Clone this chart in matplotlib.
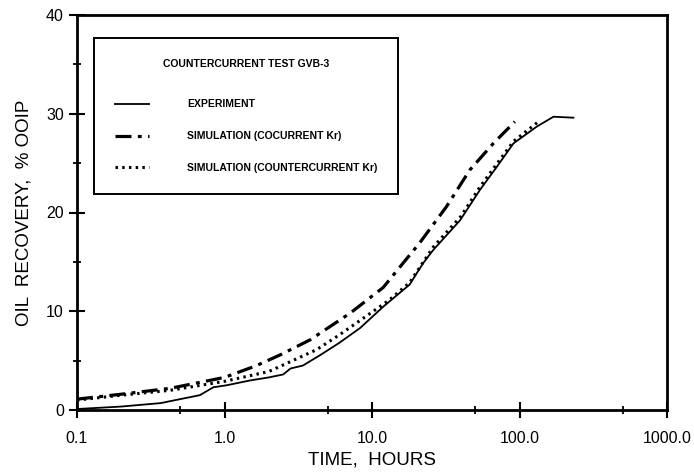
import matplotlib
matplotlib.use('Agg')
import matplotlib.pyplot as plt
from matplotlib.ticker import FixedLocator, FixedFormatter, NullFormatter

plt.rcParams['font.family'] = ['Liberation Sans', 'DejaVu Sans']

# experiment (solid)
exp_t = [0.1, 0.2, 0.37, 0.5, 0.68, 0.84, 1.03, 1.5, 2.0, 2.5, 2.8, 3.4, 4.5, 6.0, 8.3,
         12, 18, 20, 22.3, 26, 39.5, 54, 70, 91, 131, 170, 232]
exp_y = [0.1, 0.35, 0.7, 1.1, 1.5, 2.3, 2.5, 3.0, 3.3, 3.6, 4.2, 4.5, 5.6, 6.8, 8.3,
         10.5, 12.7, 13.8, 14.9, 16.2, 19.2, 22.3, 24.6, 27.0, 28.7, 29.7, 29.6]

# simulation, cocurrent Kr (dash-dot)
co_t = [0.1, 0.2, 0.43, 1.0, 1.65, 2.4, 3.8, 7.1, 11.9, 16.3, 21, 32, 46, 66.5, 93]
co_y = [1.1, 1.6, 2.2, 3.3, 4.5, 5.6, 7.1, 9.8, 12.4, 14.9, 16.9, 20.6, 24.3, 27.0, 29.2]

# simulation, countercurrent Kr (dotted)
cc_t = [0.1, 0.2, 0.43, 1.0, 2.0, 4.2, 6.0, 13, 18, 26, 40, 54, 70, 91, 137]
cc_y = [1.0, 1.5, 2.0, 2.9, 3.9, 6.1, 7.6, 11.1, 12.9, 16.5, 19.6, 22.6, 24.9, 27.2, 29.3]

x_ticks = [0.1, 1.0, 10.0, 100.0, 1000.0]
x_labels = ['0.1', '1.0', '10.0', '100.0', '1000.0']
y_ticks = [0, 10, 20, 30, 40]

fig = plt.figure(figsize=(6.94, 4.75), dpi=100)
ax = fig.add_axes([77/694, 1-410/475, 590/694, 395/475])

ax.plot(exp_t, exp_y, color='black', lw=1.3, label='EXPERIMENT')
ax.plot(co_t, co_y, color='black', lw=2.3, dashes=(5, 2, 1.2, 2),
        label='SIMULATION (COCURRENT Kr)')
ax.plot(cc_t, cc_y, color='black', lw=2.2, dashes=(0.8, 1.4),
        label='SIMULATION (COUNTERCURRENT Kr)')

ax.set_xscale('log')
ax.set_xlim(0.1, 1000)
ax.set_ylim(0, 40)
ax.xaxis.set_major_locator(FixedLocator(x_ticks))
ax.xaxis.set_major_formatter(FixedFormatter(x_labels))
ax.xaxis.set_minor_locator(FixedLocator([0.5, 5, 50, 500]))
ax.xaxis.set_minor_formatter(NullFormatter())
ax.yaxis.set_major_locator(FixedLocator(y_ticks))
ax.yaxis.set_minor_locator(FixedLocator([5, 15, 25, 35]))

ax.tick_params(which='major', direction='inout', length=12, width=1.5, labelsize=11.5)
ax.tick_params(axis='x', which='major', pad=9)
ax.tick_params(which='minor', direction='inout', length=6, width=1.3)
for s in ax.spines.values():
    s.set_linewidth(2)

ax.set_xlabel('TIME,  HOURS', fontsize=13.5, labelpad=4)
ax.set_ylabel('OIL  RECOVERY,  % OOIP', fontsize=13.5, labelpad=10)

leg = ax.legend(loc='upper left', bbox_to_anchor=(0.029, 0.942), fancybox=False,
                edgecolor='black', title='COUNTERCURRENT TEST GVB-3',
                title_fontproperties={'size': 7.5, 'weight': 'bold'},
                prop={'size': 7.5, 'weight': 'bold'}, handlelength=3.3,
                handletextpad=3.6, labelspacing=2.1, borderpad=2.0, borderaxespad=0,
                framealpha=1)
leg.get_frame().set_linewidth(1.4)
leg._legend_box.sep = 22

fig.savefig('out.png', dpi=100)
